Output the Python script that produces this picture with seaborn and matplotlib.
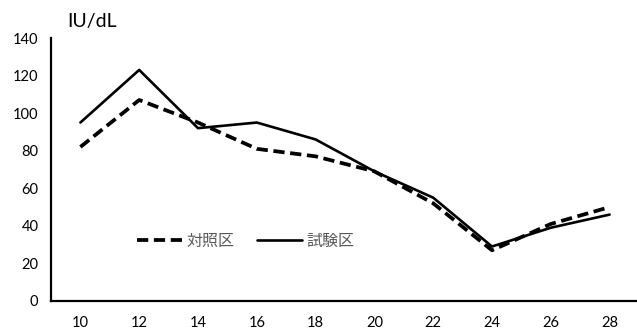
import matplotlib
matplotlib.use("Agg")
import matplotlib.pyplot as plt
import seaborn as sns
import pandas as pd

# Sampling day and enzyme activity (IU/dL) for each group
days = [10, 12, 14, 16, 18, 20, 22, 24, 26, 28]
control = [82, 107, 95, 81, 77, 69, 52, 27, 41, 50]
treated = [95, 123, 92, 95, 86, 69, 55, 29, 39, 46]
labels = ["対照区", "試験区"]
yticks = [0, 20, 40, 60, 80, 100, 120, 140]

df = pd.DataFrame({
    "day": days * 2,
    "value": control + treated,
    "group": [labels[0]] * len(days) + [labels[1]] * len(days),
})

sns.set_theme(style="white")
plt.rcParams["font.family"] = ["Lato", "Noto Sans CJK JP", "DejaVu Sans"]

fig = plt.figure(figsize=(6.37, 3.31), dpi=100)
ax = fig.add_axes([51 / 637, 1 - 301 / 331, 588 / 637, 263 / 331])

sns.lineplot(data=df[df.group == labels[0]], x="day", y="value", ax=ax,
             color="black", linewidth=2.7, label=labels[0])
sns.lineplot(data=df[df.group == labels[1]], x="day", y="value", ax=ax,
             color="black", linewidth=1.9, label=labels[1])
ax.lines[0].set_dashes((3.0, 1.5))

ax.set_xlim(9, 29)
ax.set_ylim(0, 140)
ax.set_xticks(days)
ax.set_yticks(yticks)
ax.set_xlabel("")
ax.set_ylabel("")
ax.tick_params(axis="both", length=0, labelsize=10.5, colors="#000000")
ax.tick_params(axis="x", pad=11)
ax.tick_params(axis="y", pad=9)

for side in ["top", "right"]:
    ax.spines[side].set_visible(False)
for side in ["left", "bottom"]:
    ax.spines[side].set_color("black")
    ax.spines[side].set_linewidth(1.6)

ax.text(0.027, 1.03, "IU/dL", transform=ax.transAxes, fontsize=14,
        ha="left", va="bottom", color="black",
        family=["Lato", "DejaVu Sans"])

leg = ax.legend(loc="center", bbox_to_anchor=(0.331, 0.228), ncol=2,
                frameon=False, fontsize=11.5, handlelength=2.8,
                handletextpad=0.3, columnspacing=1.4)
for t in leg.get_texts():
    t.set_color("#595959")
    t.set_family(["Noto Sans CJK JP", "DejaVu Sans"])

fig.savefig("out.png", dpi=100)
